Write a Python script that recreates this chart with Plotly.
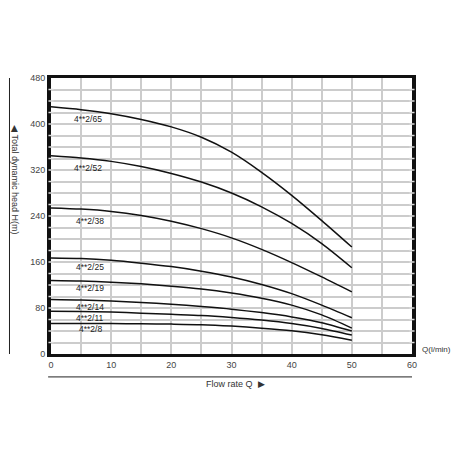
import plotly.graph_objects as go

Q = [0, 5, 10, 15, 20, 25, 30, 35, 40, 45, 50]
H_65 = [430, 425, 418, 408, 395, 377, 351, 316, 276, 232, 186]
H_52 = [345, 341, 335, 326, 314, 299, 280, 256, 227, 192, 150]
H_38 = [254, 252, 248, 241, 231, 218, 202, 182, 159, 134, 108]
H_25 = [167, 166, 163, 158, 152, 144, 134, 121, 105, 85, 63]
H_19 = [128, 127, 125, 122, 118, 113, 106, 97, 85, 68, 45]
H_14 = [95, 94, 92, 89.5, 86.5, 82.5, 78, 72, 64.5, 54.5, 40]
H_11 = [74.5, 74, 73, 71, 69, 67, 63.5, 59, 53, 44.5, 33]
H_8 = [53, 53, 53, 52.5, 52, 51, 48.5, 45, 40.5, 33.5, 24]

series = [("4**2/65", H_65), ("4**2/52", H_52), ("4**2/38", H_38), ("4**2/25", H_25),
          ("4**2/19", H_19), ("4**2/14", H_14), ("4**2/11", H_11), ("4**2/8", H_8)]
label_q = [6.1, 6.2, 6.4, 6.4, 6.4, 6.4, 6.5, 6.6]
label_h = [408, 324, 232, 151, 115, 82, 62.5, 43]

x_ticks = [0, 10, 20, 30, 40, 50, 60]
y_ticks = [0, 80, 160, 240, 320, 400, 480]

FONT = "Liberation Sans, Arial, sans-serif"

fig = go.Figure()
for name, h in series:
    fig.add_trace(go.Scatter(x=Q, y=h, mode="lines", name=name,
                             line=dict(color="#111111", width=1.5, shape="spline", smoothing=0.8),
                             showlegend=False, hoverinfo="skip"))

for (name, _), lq, lh in zip(series, label_q, label_h):
    fig.add_annotation(x=lq, y=lh, text=name, showarrow=False,
                       font=dict(family=FONT, size=8.5, color="#222"))

shapes = []
# light breaks in thick left/right frame at grid rows
for v in range(20, 480, 20):
    for xp in (0.0, 1.0):
        shapes.append(dict(type="line", xref="paper", yref="y",
                           x0=xp - 0.007, x1=xp + 0.007, y0=v, y1=v,
                           line=dict(color="#dddddd", width=1.5), layer="above"))
# left vertical line next to y title
shapes.append(dict(type="line", xref="paper", yref="paper", x0=-0.115, x1=-0.115, y0=0.0, y1=1.0,
                   line=dict(color="#222", width=1)))
# bottom horizontal line above x title
shapes.append(dict(type="line", xref="paper", yref="paper", x0=-0.008, x1=1.0, y0=-0.083, y1=-0.083,
                   line=dict(color="#222", width=1)))

fig.update_layout(
    width=451, height=451,
    margin=dict(l=43, r=47, t=70, b=105),
    paper_bgcolor="white", plot_bgcolor="white",
    font=dict(family=FONT, size=9, color="#333"),
    shapes=shapes,
    xaxis=dict(range=[0, 60], tickvals=x_ticks, ticktext=[str(t) for t in x_ticks],
               showgrid=True, gridcolor="#cccccc", gridwidth=1.5,
               minor=dict(dtick=5, showgrid=True, gridcolor="#cccccc", gridwidth=1.5),
               showline=True, linecolor="#111", linewidth=3, mirror=True,
               ticks="", zeroline=False, tickfont=dict(size=9, color="#444")),
    yaxis=dict(range=[0, 480], tickvals=y_ticks, ticktext=[str(t) for t in y_ticks],
               showgrid=True, gridcolor="#cccccc", gridwidth=1.5,
               minor=dict(dtick=20, showgrid=True, gridcolor="#cccccc", gridwidth=1.5),
               showline=True, linecolor="#111", linewidth=4, mirror=True,
               ticks="", zeroline=False, tickfont=dict(size=9, color="#444")),
)

fig.add_annotation(xref="paper", yref="paper", x=-0.10, y=0.63, xanchor="center", yanchor="middle",
                   text="◀ Total dynamic head H(m)",
                   textangle=90, showarrow=False, font=dict(family=FONT, size=9, color="#333"))
fig.add_annotation(xref="paper", yref="paper", x=1.068, y=0.018, xanchor="center", yanchor="middle",
                   text="Q(l/min)", showarrow=False, font=dict(family=FONT, size=8, color="#333"))
fig.add_annotation(xref="paper", yref="paper", x=0.51, y=-0.109, xanchor="center", yanchor="middle",
                   text="Flow rate Q  ▶", showarrow=False, font=dict(family=FONT, size=9, color="#333"))

fig.write_html("out.html")
